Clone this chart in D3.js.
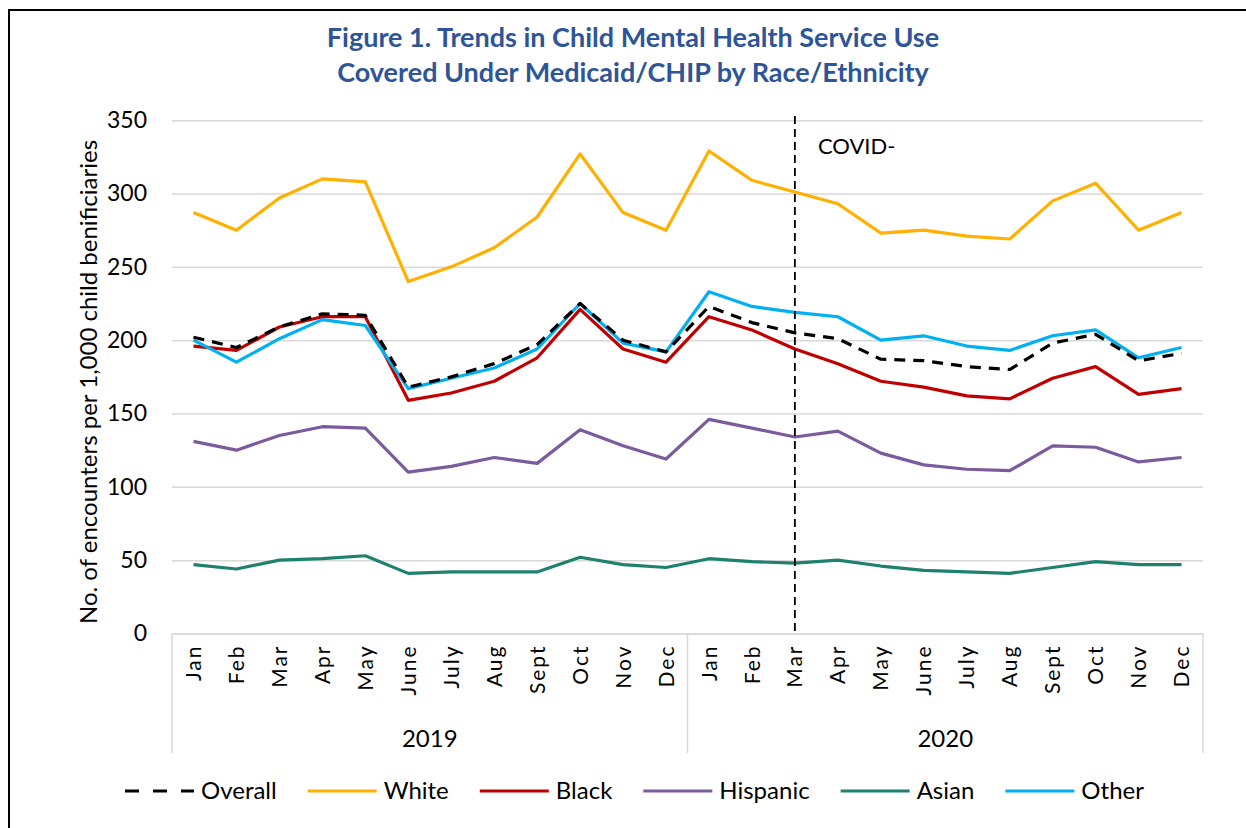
<!DOCTYPE html>
<html>
<head>
<meta charset="utf-8">
<script src="https://cdn.jsdelivr.net/npm/d3@7"></script>
<style>
  body { margin: 0; background: #fff; }
  svg { display: block; font-family: Lato, "Open Sans", sans-serif; }
</style>
</head>
<body>
<svg id="s" width="1246" height="828"></svg>
<script>
// Data
const months = ["Jan", "Feb", "Mar", "Apr", "May", "June", "July", "Aug", "Sept", "Oct", "Nov", "Dec"],
  years = ["2019", "2020"],
  yTicks = [0, 50, 100, 150, 200, 250, 300, 350],
  overall = [202, 195, 209, 218, 217, 168, 175, 184, 197, 225, 200, 192,
    223, 212, 205, 201, 187, 186, 182, 180, 198, 204, 186, 191],
  white = [287, 275, 297, 310, 308, 240, 250, 263, 284, 327, 287, 275,
    329, 309, 301, 293, 273, 275, 271, 269, 295, 307, 275, 287],
  black = [196, 193, 209, 216, 216, 159, 164, 172, 188, 221, 194, 185,
    216, 207, 194, 184, 172, 168, 162, 160, 174, 182, 163, 167],
  hispanic = [131, 125, 135, 141, 140, 110, 114, 120, 116, 139, 128, 119,
    146, 140, 134, 138, 123, 115, 112, 111, 128, 127, 117, 120],
  asian = [47, 44, 50, 51, 53, 41, 42, 42, 42, 52, 47, 45,
    51, 49, 48, 50, 46, 43, 42, 41, 45, 49, 47, 47],
  other = [200, 185, 201, 214, 210, 167, 174, 181, 194, 225, 198, 192,
    233, 223, 219, 216, 200, 203, 196, 193, 203, 207, 188, 195],
  covidMonth = "2020-Mar",
  covidLabel = "COVID-";

const series = [
  { name: "Overall", values: overall, color: "#000000", dash: "11,8" },
  { name: "White", values: white, color: "#FFB000" },
  { name: "Black", values: black, color: "#C00000" },
  { name: "Hispanic", values: hispanic, color: "#7B5B9B" },
  { name: "Asian", values: asian, color: "#1E816E" },
  { name: "Other", values: other, color: "#00B0F0" },
];

const keys = years.flatMap(y => months.map(m => `${y}-${m}`)),
  svg = d3.select("#s"),
  pl = 172, pr = 1203, pt = 120.2, pb = 633.5;

const x = d3.scaleBand().domain(keys).range([pl, pr]),
  y = d3.scaleLinear().domain([0, 350]).range([pb, pt]),
  cx = k => x(k) + x.bandwidth() / 2;

// frame
svg.append("path")
  .attr("d", "M9,840V10H1260")
  .attr("fill", "none").attr("stroke", "#000").attr("stroke-width", 2);

// title
svg.append("text")
  .attr("x", 633).attr("text-anchor", "middle")
  .attr("fill", "#2E5597").attr("font-weight", "bold").attr("font-size", 27)
  .selectAll("tspan")
  .data(["Figure 1. Trends in Child Mental Health Service Use", "Covered Under Medicaid/CHIP by Race/Ethnicity"])
  .join("tspan")
  .attr("x", 633).attr("y", (d, i) => 47 + i * 35)
  .text(d => d);

// grid + y axis
const yAxis = svg.append("g")
  .attr("transform", `translate(${pl},0)`)
  .call(d3.axisLeft(y).tickValues(yTicks).tickSize(-(pr - pl)).tickPadding(25));
yAxis.select(".domain").remove();
yAxis.selectAll(".tick line").attr("stroke", "#d9d9d9").attr("stroke-width", 1.5);
yAxis.selectAll(".tick text")
  .attr("font-family", "Lato, sans-serif").attr("font-size", 23).attr("fill", "#000");

svg.append("text")
  .attr("transform", `translate(97,382) rotate(-90)`)
  .attr("text-anchor", "middle").attr("font-size", 24)
  .text("No. of encounters per 1,000 child benificiaries");

// category axis
const xAxis = svg.append("g")
  .attr("transform", `translate(0,${pb})`)
  .call(d3.axisBottom(x).tickSize(0).tickFormat(k => k.split("-")[1]));
xAxis.select(".domain").attr("stroke", "#d9d9d9").attr("stroke-width", 1.5);
xAxis.selectAll(".tick text")
  .attr("font-family", "Lato, sans-serif").attr("font-size", 21).attr("fill", "#000")
  .attr("letter-spacing", 2)
  .attr("text-anchor", "end")
  .attr("transform", "rotate(-90)")
  .attr("x", -11).attr("y", 0).attr("dy", "0.36em");

// year separators and labels
const sepX = [pl, x(`${years[1]}-${months[0]}`), pr];
svg.selectAll(".sep").data(sepX).join("line")
  .attr("x1", d => d).attr("x2", d => d)
  .attr("y1", pb).attr("y2", 753)
  .attr("stroke", "#d9d9d9").attr("stroke-width", 1.5);
svg.selectAll(".year").data(years).join("text")
  .attr("x", (d, i) => (sepX[i] + sepX[i + 1]) / 2).attr("y", 747)
  .attr("text-anchor", "middle").attr("font-size", 24)
  .text(d => d);

// lines
const line = d3.line().x((d, i) => cx(keys[i])).y(d => y(d));
svg.selectAll(".series").data(series.slice(1).concat(series[0])).join("path")
  .attr("d", d => line(d.values))
  .attr("fill", "none")
  .attr("stroke", d => d.color)
  .attr("stroke-width", 3.2)
  .attr("stroke-linejoin", "round")
  .attr("stroke-dasharray", d => d.dash || null);

// covid marker
svg.append("line")
  .attr("x1", cx(covidMonth)).attr("x2", cx(covidMonth))
  .attr("y1", 116).attr("y2", pb)
  .attr("stroke", "#000").attr("stroke-width", 1.8).attr("stroke-dasharray", "8,5");
svg.append("text")
  .attr("x", cx(covidMonth) + 23).attr("y", 154)
  .attr("font-size", 22).text(covidLabel);

// legend
const legend = svg.append("g").attr("transform", "translate(125,791)");
let lx = 0;
series.forEach(s => {
  legend.append("line")
    .attr("x1", lx).attr("x2", lx + 69).attr("y1", 0).attr("y2", 0)
    .attr("stroke", s.color).attr("stroke-width", 3.2)
    .attr("stroke-dasharray", s.dash ? "14,14" : null);
  const t = legend.append("text")
    .attr("x", lx + 76).attr("y", 8).attr("font-size", 24).text(s.name);
  lx += 76 + t.node().getComputedTextLength() + 31;
});
</script>
</body>
</html>
